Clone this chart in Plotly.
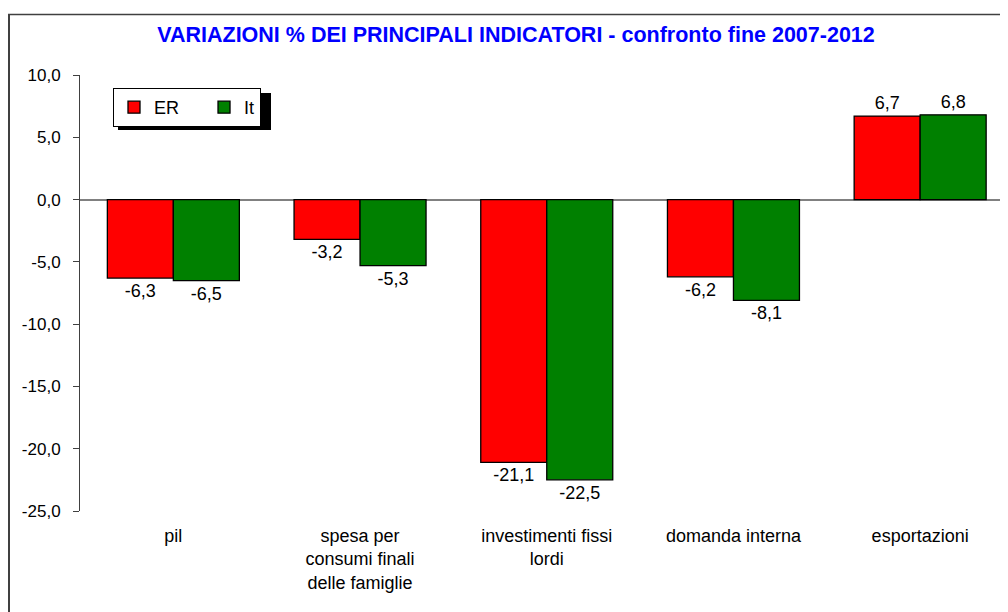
import plotly.graph_objects as go

categories = ["pil", "spesa per<br>consumi finali<br>delle famiglie", "investimenti fissi<br>lordi",
              "domanda interna", "esportazioni"]
er_values = [-6.3, -3.2, -21.1, -6.2, 6.7]
it_values = [-6.5, -5.3, -22.5, -8.1, 6.8]
y_ticks = [10, 5, 0, -5, -10, -15, -20, -25]


def fmt(v):
    return f"{v:.1f}".replace(".", ",")


FONT = "Liberation Sans, Arial, sans-serif"
OFF = 8  # page body margin offset
W, H = 1008 - OFF, 612 - OFF
L, T, B = 80 - OFF, 75 - OFF, 511 - OFF
R = W
PW, PH = R - L, B - T


def px(x):
    return (x - OFF - L) / PW


def py(y):
    return (B - (y - OFF)) / PH


fig = go.Figure()
fig.add_trace(go.Bar(
    name="ER\u00a0\u00a0\u00a0\u00a0", x=categories, y=er_values,
    marker=dict(color="#FF0000", line=dict(color="#000000", width=1.3)),
    text=[fmt(v) for v in er_values], texttemplate="%{text}", textposition="outside",
    textfont=dict(family=FONT, size=18, color="#000000"), cliponaxis=False,
))
fig.add_trace(go.Bar(
    name="It", x=categories, y=it_values,
    marker=dict(color="#008000", line=dict(color="#000000", width=1.3)),
    text=[fmt(v) for v in it_values], texttemplate="%{text}", textposition="outside",
    textfont=dict(family=FONT, size=18, color="#000000"), cliponaxis=False,
))

shapes = [
    # legend shadow
    dict(type="rect", xref="paper", yref="paper", x0=px(118), x1=px(271), y0=py(93), y1=py(130),
         fillcolor="#000000", line=dict(width=0), layer="above"),
    # outer frame
    dict(type="line", xref="paper", yref="paper", x0=px(9), x1=px(9), y0=py(14), y1=py(612),
         line=dict(color="#404040", width=2)),
    dict(type="line", xref="paper", yref="paper", x0=px(8), x1=px(1008), y0=py(14.5), y1=py(14.5),
         line=dict(color="#404040", width=1.5)),
]

fig.update_layout(
    width=W, height=H, autosize=False,
    margin=dict(l=L, r=W - R, t=T, b=H - B, pad=0),
    paper_bgcolor="#FFFFFF", plot_bgcolor="#FFFFFF",
    separators=",.",
    barmode="group", bargap=0.293, bargroupgap=0,
    font=dict(family=FONT, size=18, color="#000000"),
    title=dict(text="<b>VARIAZIONI % DEI PRINCIPALI INDICATORI - confronto fine 2007-2012</b>",
               xref="container", x=(516 - OFF) / W, xanchor="center",
               yref="container", y=1 - (34 - OFF) / H, yanchor="middle",
               font=dict(family=FONT, size=21.5, color="#0000FF")),
    legend=dict(orientation="h", x=px(113), y=py(88), xanchor="left", yanchor="top",
                bgcolor="#FFFFFF", bordercolor="#000000", borderwidth=1,
                font=dict(family=FONT, size=18, color="#000000"),
                traceorder="normal"),
    xaxis=dict(range=[-0.5, -0.5 + (1008 - 80) / 186.7], showline=False, showgrid=False, ticks="",
               tickfont=dict(family=FONT, size=18), ticklabelstandoff=12, fixedrange=True),
    yaxis=dict(range=[-25, 10], tickvals=y_ticks, ticktext=[fmt(v) for v in y_ticks], showgrid=False,
               showline=True, linecolor="#404040", linewidth=1,
               ticks="outside", ticklen=6, tickcolor="#404040",
               zeroline=True, zerolinecolor="#808080", zerolinewidth=1.5,
               tickfont=dict(family=FONT, size=17), ticklabelstandoff=9, fixedrange=True),
    shapes=shapes,
    showlegend=True,
)

fig.write_html("out.html")
